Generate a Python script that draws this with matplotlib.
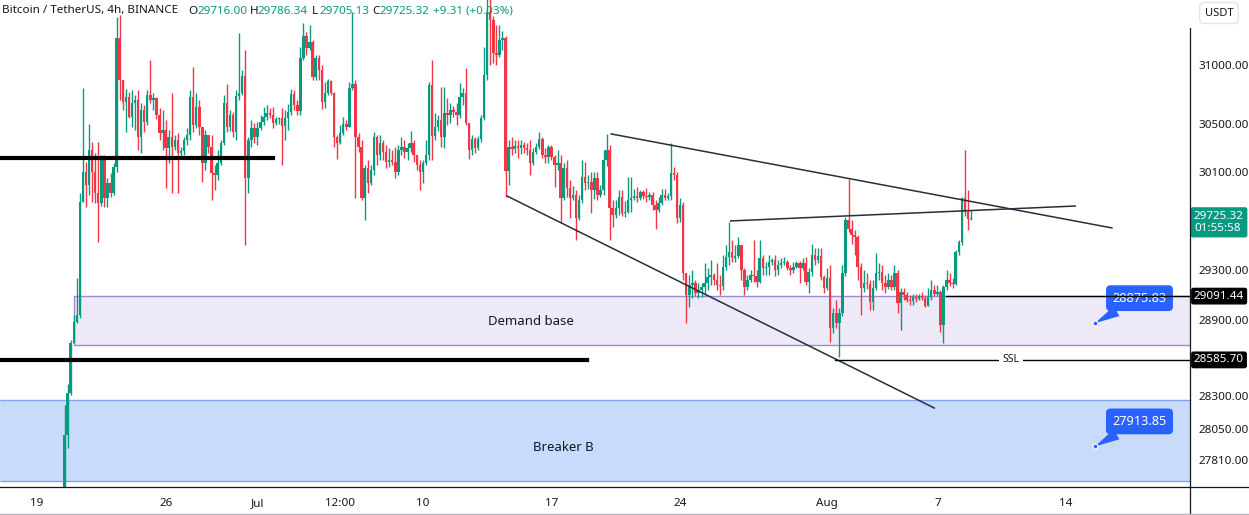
import numpy as np
import pandas as pd
import matplotlib
matplotlib.use("Agg")
import matplotlib.pyplot as plt
import matplotlib.dates as mdates
from matplotlib.lines import Line2D
from matplotlib.ticker import FixedLocator, NullLocator
from matplotlib.transforms import offset_copy

plt.rcParams["font.family"] = ["Noto Sans", "DejaVu Sans"]

# --- candle data (BTC/USDT 4h) ---
bar_start = "2023-06-20 12:00"
first_open = 27450

closes = [
    28000, 28325, 28720, 28885, 28940, 29855, 30100, 29990, 30285, 30100,
    29925, 29845, 30200, 29885, 30010, 29925, 30140, 31230, 30870, 30685,
    30725, 30560, 30680, 30705, 30395, 30620, 30520, 30745, 30705, 30720,
    30580, 30425, 30450, 30300, 30395, 30310, 30365, 30260, 30275, 30365,
    30410, 30730, 30495, 30645, 30475, 30175, 30410, 30310, 30090, 30075,
    30175, 30345, 30680, 30480, 30575, 30435, 30735, 30760, 30905, 30050,
    30365, 30465, 30395, 30465, 30520, 30560, 30595, 30580, 30510, 30545,
    30550, 30485, 30550, 30600, 30750, 30660, 30610, 31060, 31250, 31145,
    31200, 30900, 31060, 30955, 30685, 30760, 30865, 30760, 30395, 30345,
    30425, 30505, 30480, 30805, 30840, 30395, 30310, 29885, 30135, 30010,
    30115, 30395, 30245, 30345, 30270, 30185, 30200, 30185, 30100, 30285,
    30310, 30270, 30300, 30345, 30245, 30160, 30100, 30175, 30245, 30830,
    30400, 30480, 30535, 30395, 30595, 30580, 30620, 30600, 30580, 30730,
    30760, 30510, 30285, 30375, 30300, 30375, 30550, 30915, 31455, 31385,
    31100, 31085, 31215, 31230, 30110, 30310, 30290, 30320, 30300, 30325,
    30300, 30285, 30175, 30270, 30310, 30375, 30245, 30225, 30310, 30225,
    30160, 30175, 29885, 30135, 29970, 29885, 29910, 29725, 29870, 30060,
    30010, 30020, 29955, 30050, 29910, 29955, 30200, 30285, 29805, 29750,
    29805, 29895, 29765, 29775, 29870, 29885, 29900, 29885, 29935, 29900,
    29895, 29910, 29830, 29790, 29845, 29910, 29885, 29900, 30090, 30075,
    29725, 29830, 29275, 29100, 29180, 29195, 29115, 29140, 29165, 29195,
    29245, 29260, 29220, 29180, 29175, 29325, 29405, 29445, 29400, 29415,
    29505, 29300, 29165, 29220, 29260, 29250, 29205, 29400, 29320, 29325,
    29365, 29380, 29300, 29340, 29360, 29365, 29320, 29300, 29325, 29360,
    29320, 29360, 29205, 29285, 29420, 29380, 29415, 29245, 29155, 29235,
    28840, 28955, 28880, 28955, 29280, 29705, 29635, 29585, 29570, 29325,
    29155, 29195, 29190, 29045, 29155, 29280, 29285, 29195, 29165, 29220,
    29165, 29280, 29035, 29125, 29100, 29060, 29050, 29085, 29070, 29090,
    29075, 29015, 29085, 29140, 29110, 29125, 28860, 29165, 29220, 29195,
    29190, 29445, 29525, 29885, 29770, 29716, 29725.32,
]

highs = [
    28235, 28400, 28745, 28940, 29235, 29925, 30805, 30185, 30500, 30350,
    30260, 30350, 30240, 30240, 30050, 30090, 30175, 31410, 31430, 30785,
    30795, 30770, 30785, 30745, 30785, 30680, 30665, 30785, 31045, 30760,
    30725, 30635, 30620, 30535, 30450, 30760, 30410, 30425, 30310, 30390,
    30470, 30785, 30985, 30760, 30705, 30475, 30450, 30410, 30410, 30160,
    30285, 30370, 30745, 30840, 30620, 30600, 30785, 31275, 30955, 31130,
    30390, 30535, 30510, 30520, 30575, 30645, 30660, 30635, 30645, 30560,
    30560, 30635, 30620, 30670, 30795, 30785, 30705, 31155, 31360, 31285,
    31345, 31215, 31085, 31085, 31000, 30855, 30880, 30870, 30770, 30410,
    30495, 30560, 30535, 30855, 31455, 30870, 30425, 30365, 30160, 30200,
    30160, 30435, 30410, 30410, 30365, 30325, 30300, 30285, 30310, 30325,
    30390, 30365, 30345, 30440, 30365, 30245, 30200, 30200, 30365, 30855,
    31045, 30595, 30580, 30810, 30810, 30720, 30680, 30650, 30680, 30850,
    30805, 30975, 30510, 30410, 30390, 30400, 30575, 31155, 31620, 31600,
    31420, 31345, 31345, 31290, 31250, 30365, 30390, 30365, 30365, 30365,
    30350, 30345, 30365, 30300, 30345, 30435, 30390, 30300, 30325, 30325,
    30245, 30285, 30245, 30175, 30200, 30035, 29985, 29950, 29910, 30200,
    30185, 30075, 30100, 30100, 30100, 29995, 30285, 30415, 30325, 29870,
    29870, 29950, 29950, 29860, 30060, 30060, 29960, 29975, 29950, 29950,
    29970, 29935, 29935, 29870, 29895, 29960, 29960, 29925, 30340, 30140,
    30100, 29885, 29855, 29275, 29260, 29300, 29220, 29195, 29195, 29360,
    29320, 29380, 29280, 29360, 29260, 29420, 29505, 29691, 29545, 29505,
    29570, 29505, 29320, 29260, 29300, 29545, 29300, 29545, 29420, 29365,
    29420, 29400, 29420, 29380, 29400, 29405, 29380, 29340, 29365, 29375,
    29370, 29400, 29405, 29320, 29515, 29480, 29480, 29480, 29260, 29320,
    29340, 28995, 29060, 28995, 29340, 29730, 30045, 29705, 29625, 29585,
    29360, 29300, 29280, 29220, 29220, 29440, 29360, 29340, 29260, 29280,
    29260, 29340, 29300, 29160, 29160, 29125, 29100, 29110, 29110, 29110,
    29125, 29100, 29160, 29220, 29180, 29180, 29140, 29180, 29300, 29280,
    29240, 29460, 29540, 29895, 30285, 29950, 29786.34,
]

lows = [
    27300, 27900, 28310, 28795, 28880, 28920, 29990, 29810, 29910, 29855,
    29845, 29530, 29820, 29810, 29810, 29895, 29910, 30100, 30700, 30620,
    30430, 30550, 30475, 30450, 30285, 30260, 30430, 30495, 30680, 30620,
    30540, 30370, 30285, 29970, 30175, 29925, 30285, 29925, 30225, 30240,
    30325, 30365, 30435, 30470, 30410, 30020, 30115, 30260, 29870, 29950,
    30035, 30160, 30325, 30430, 30440, 30395, 30365, 30705, 30745, 29505,
    29925, 30310, 30345, 30325, 30450, 30495, 30535, 30555, 30470, 30495,
    30505, 30160, 30365, 30450, 30580, 30620, 30580, 30580, 31045, 31085,
    31130, 30870, 30870, 30870, 30625, 30635, 30745, 30745, 30310, 30210,
    30330, 30410, 30450, 30480, 30790, 29885, 30270, 29870, 29710, 29925,
    29995, 30075, 30160, 30200, 30200, 30135, 30145, 30160, 30050, 30075,
    30245, 30220, 30200, 30270, 30185, 30120, 29950, 30010, 30160, 30200,
    30200, 30365, 30440, 30310, 30300, 30495, 30510, 30560, 30495, 30550,
    30660, 30495, 30210, 30245, 30255, 30280, 30350, 30535, 30870, 31000,
    31015, 31000, 31070, 31130, 29895, 29990, 30245, 30260, 30220, 30250,
    30255, 30240, 30075, 30160, 30250, 30290, 30220, 30180, 30180, 30200,
    29975, 30120, 29685, 29870, 29895, 29725, 29870, 29545, 29710, 29845,
    29950, 29960, 29765, 29880, 29870, 29895, 29910, 30150, 29545, 29650,
    29720, 29750, 29740, 29735, 29760, 29775, 29870, 29850, 29870, 29880,
    29850, 29870, 29790, 29630, 29775, 29830, 29870, 29870, 29870, 30035,
    29685, 29690, 29220, 28875, 29005, 29075, 29095, 29075, 29085, 29100,
    29140, 29180, 29180, 29140, 29100, 29140, 29300, 29340, 29365, 29365,
    29400, 29220, 29100, 29140, 29205, 29205, 29165, 29195, 29260, 29260,
    29260, 29340, 29255, 29260, 29320, 29340, 29300, 29260, 29280, 29320,
    29195, 29300, 29180, 29115, 29250, 29340, 29360, 29220, 29115, 29140,
    28730, 28800, 28840, 28610, 28930, 29250, 29610, 29510, 29420, 29220,
    28940, 29125, 29150, 28980, 28980, 29140, 29220, 29140, 29115, 29150,
    29140, 29140, 28955, 28825, 29060, 29045, 29020, 29020, 29045, 29060,
    29060, 29005, 29020, 29060, 29095, 29095, 28805, 28720, 29140, 29170,
    29160, 29180, 29420, 29500, 29740, 29625, 29705.13,
]

# --- axes / annotation values ---
price_ticks = [31000, 30500, 30100, 29300, 28900, 28300, 28050, 27810]
date_ticks = ["2023-06-19 00:00", "2023-06-26 00:00", "2023-07-01 00:00", "2023-07-05 12:00",
              "2023-07-10 00:00", "2023-07-17 00:00", "2023-07-24 00:00", "2023-08-01 00:00",
              "2023-08-07 00:00", "2023-08-14 00:00"]
date_labels = ["19", "26", "Jul", "12:00", "10", "17", "24", "Aug", "7", "14"]
view_dates = ["2023-06-16 23:40", "2023-08-20 18:00"]
view_prices = [27604, 31559]

demand_top, demand_bottom = 29091.44, 28704
demand_from = "2023-06-21 00:15"
breaker_top, breaker_bottom = 28272, 27650

trend_lines = [
    (["2023-07-20 06:00", "2023-08-16 12:00"], [30418, 29642]),
    (["2023-07-14 14:00", "2023-08-06 20:00"], [29903, 28210]),
    (["2023-07-26 18:00", "2023-08-14 12:00"], [29699, 29821]),
]
thick_levels = [(30218, "2023-07-01 20:00"), (28585.70, "2023-07-18 22:00")]
ssl_price, ssl_from, ssl_label_at = 28585.70, "2023-08-01 10:00", "2023-08-11 00:00"
ray_price, ray_from = 29091.44, "2023-08-07 11:00"
callout_at = "2023-08-15 14:00"
callout_prices = [28875.83, 27913.85]

GREEN = "#089981"
RED = "#F23645"
INK = "#131722"

d = mdates.date2num
ts = pd.Timestamp
opens = np.array([first_open] + closes[:-1], dtype=float)
c = np.array(closes, dtype=float)
h = np.maximum(np.array(highs, dtype=float), np.maximum(opens, c))
l = np.minimum(np.array(lows, dtype=float), np.minimum(opens, c))
times = pd.date_range(bar_start, periods=len(c), freq="4h")
x = d(times)
up = c >= opens
cols = np.where(up, GREEN, RED)

W, H = 1249, 515
fig = plt.figure(figsize=(W / 100, H / 100), dpi=100)
ax = fig.add_axes([0, 28 / H, 1190 / W, 487 / H])
ax.set_yscale("log")
x0, x1 = d(ts(view_dates[0])), d(ts(view_dates[1]))
ax.set_xlim(x0, x1)
ax.set_ylim(*view_prices)
for s in ax.spines.values():
    s.set_visible(False)

# zones
xd = d(ts(demand_from))
ax.fill_between([xd, x1], demand_bottom, demand_top, color="#EDE9F7", lw=0, zorder=1)
ax.plot([x1, xd, xd, x1], [demand_top, demand_top, demand_bottom, demand_bottom],
        color="#9E88DC", lw=1, zorder=1.5)
ax.fill_between([x0, x1], breaker_bottom, breaker_top, color="#C9DBFA", lw=0, zorder=1)
ax.hlines([breaker_top, breaker_bottom], x0, x1, color="#7FA6EE", lw=1, zorder=1.5)
ax.text(d(ts("2023-07-15 21:00")), 28886, "Demand base", ha="center",
        va="center", fontsize=9.5, color=INK, zorder=2)
ax.text(d(ts("2023-07-17 15:00")), 27909, "Breaker B", ha="center",
        va="center", fontsize=9.5, color=INK, zorder=2)

# candles
ax.vlines(x, l, h, colors=cols, lw=1.0, zorder=3)
body_lo = np.minimum(opens, c)
body_hi = np.maximum(np.maximum(opens, c), body_lo * 1.0002)
ax.bar(x, body_hi - body_lo, bottom=body_lo, width=0.135, color=cols, lw=0, zorder=3.5)

# drawings
for ds, ps in trend_lines:
    ax.plot([d(ts(ds[0])), d(ts(ds[1]))], ps, color="#2A2E39", lw=1.1, zorder=4)
for price, until in thick_levels:
    ax.plot([x0, d(ts(until))], [price, price], color="black", lw=3, zorder=4)
ax.plot([d(ts(ssl_from)), x1], [ssl_price] * 2, color="black", lw=1, zorder=4)
ax.text(d(ts(ssl_label_at)), ssl_price, "SSL", ha="center", va="center",
        fontsize=7.5, color=INK, zorder=5,
        bbox=dict(boxstyle="square,pad=0.35", fc="white", ec="none"))
ax.plot([d(ts(ray_from)), x1], [ray_price] * 2, color="black", lw=1, zorder=6)

for p in callout_prices:
    xc = d(ts(callout_at))
    ax.annotate(f"{p:.2f}", xy=(xc, p), xytext=(32, 18), textcoords="offset points",
                ha="center", va="center", fontsize=9.2, color="white", zorder=5,
                fontweight="semibold", annotation_clip=False,
                bbox=dict(boxstyle="round,pad=0.5,rounding_size=0.35", fc="#2962FF", ec="none"),
                arrowprops=dict(arrowstyle="wedge,tail_width=0.9,shrink_factor=0.5",
                                fc="#2962FF", ec="none", shrinkA=0, shrinkB=0))
    ax.plot(xc, p, "o", ms=3.5, mfc="#2962FF", mec="white", mew=0.8, zorder=5.5)

# axes ticks
ax.yaxis.tick_right()
ax.yaxis.set_major_locator(FixedLocator(price_ticks))
ax.yaxis.set_minor_locator(NullLocator())
ax.set_yticklabels([f"{p:.2f}" for p in price_ticks])
ax.tick_params(axis="y", length=0, pad=6, labelsize=8.4, labelcolor=INK)
ax.set_xticks([d(ts(t)) for t in date_ticks])
ax.set_xticklabels(date_labels)
ax.tick_params(axis="x", length=0, pad=8, labelsize=8.4, labelcolor=INK)

# price tags on the axis
tag_tr = offset_copy(ax.get_yaxis_transform(), fig=fig, x=4, y=0, units="dots")
for p in [ray_price, ssl_price]:
    ax.text(1.0, p, f"{p:.2f}", transform=tag_tr, ha="left", va="center", fontsize=8.4,
            color="white", clip_on=False, zorder=10,
            bbox=dict(boxstyle="round,pad=0.25,rounding_size=0.2", fc="black", ec="none"))
last_tr = offset_copy(ax.get_yaxis_transform(), fig=fig, x=4, y=7, units="dots")
ax.text(1.0, c[-1], f"{c[-1]:.2f}\n01:55:58", transform=last_tr, ha="left", va="top",
        fontsize=8.4, color="white", clip_on=False, zorder=10, linespacing=1.15,
        bbox=dict(boxstyle="round,pad=0.3,rounding_size=0.2", fc=GREEN, ec="none"))

# frame lines
fig.add_artist(Line2D([0, 1], [28 / H] * 2, transform=fig.transFigure, color=INK, lw=0.9))
fig.add_artist(Line2D([1190 / W] * 2, [0, 1 - 28 / H], transform=fig.transFigure,
                      color=INK, lw=0.9))
fig.add_artist(Line2D([0, 1], [1.5 / H] * 2, transform=fig.transFigure, color="#B2B5BE", lw=1))
fig.text(1219 / W, 1 - 13 / H, "USDT", ha="center", va="center", fontsize=8, color=INK,
         bbox=dict(boxstyle="round,pad=0.45,rounding_size=0.4", fc="white", ec="#E0E3EB"))

# header
header = [("Bitcoin / TetherUS, 4h, BINANCE", 2, INK), ("O", 188, INK), ("29716.00", 197, GREEN),
          ("H", 250, INK), ("29786.34", 258, GREEN), ("L", 312, INK), ("29705.13", 319, GREEN),
          ("C", 372, INK), ("29725.32", 380, GREEN), ("+9.31 (+0.03%)", 433, GREEN)]
for txt, px, col in header:
    fig.text(px / W, 1 - 11 / H, txt, ha="left", va="center", fontsize=8.4, color=col)

fig.savefig("out.png", dpi=100)
